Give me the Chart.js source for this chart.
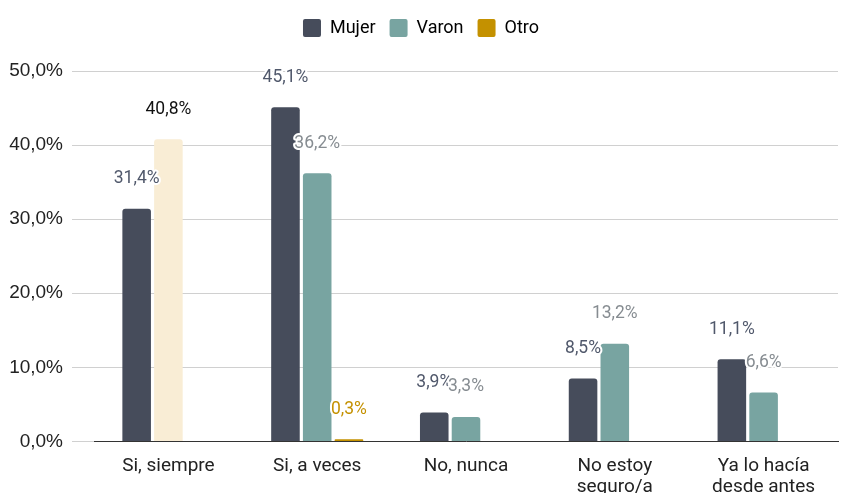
<!DOCTYPE html>
<html>
<head>
<meta charset="utf-8">
<script src="https://cdn.jsdelivr.net/npm/chart.js@4/dist/chart.umd.min.js"></script>
<style>
  html, body { margin: 0; padding: 0; background: #fff; overflow: hidden; }
  #wrap { width: 848px; height: 504px; position: relative; }
</style>
</head>
<body>
<div id="wrap"><canvas id="grafico"></canvas></div>
<script>
// datos
const categorias = ['Si, siempre', 'Si, a veces', 'No, nunca', ['No estoy', 'seguro/a'], ['Ya lo hacía', 'desde antes']];
const mujer = [31.4, 45.1, 3.9, 8.5, 11.1];
const varon = [40.8, 36.2, 3.3, 13.2, 6.6];
const otro = [null, 0.3, null, null, null];
const ticksY = [0, 10, 20, 30, 40, 50];

// barra resaltada (Varon en "Si, siempre")
const destacado = 0;

const colores = { mujer: '#464c5b', varon: '#78a4a1', otro: '#c49100', destacado: '#f9edd5' };
const coloresEtiqueta = { mujer: '#50586b', varon: '#868c91', otro: '#c49100' };

const fmt = v => v.toFixed(1).replace('.', ',') + '%';

// etiquetas de valor encima de las barras
const etiquetasPlugin = {
  id: 'etiquetas',
  afterDatasetsDraw(chart) {
    const ctx = chart.ctx;
    ctx.save();
    ctx.font = '17.5px Roboto';
    ctx.textAlign = 'center';
    ctx.textBaseline = 'middle';
    ctx.lineJoin = 'round';
    chart.data.datasets.forEach((ds, i) => {
      const meta = chart.getDatasetMeta(i);
      meta.data.forEach((bar, j) => {
        const v = ds.data[j];
        if (v == null) return;
        let color = ds.labelColor;
        if (i === 1 && j === destacado) color = '#111';
        const y = bar.y - 30;
        ctx.strokeStyle = '#fff';
        ctx.lineWidth = 4;
        ctx.strokeText(fmt(v), bar.x, y);
        ctx.fillStyle = color;
        ctx.fillText(fmt(v), bar.x, y);
      });
    });
    ctx.restore();
  }
};

// mas espacio bajo la leyenda
const espacioLeyenda = {
  id: 'espacioLeyenda',
  beforeInit(chart) {
    const fitOrig = chart.legend.fit;
    chart.legend.fit = function () {
      fitOrig.bind(chart.legend)();
      this.height += 24;
    };
  }
};

const ctx = document.getElementById('grafico').getContext('2d');
new Chart(ctx, {
  type: 'bar',
  data: {
    labels: categorias,
    datasets: [
      {
        label: 'Mujer',
        data: mujer,
        backgroundColor: colores.mujer,
        labelColor: coloresEtiqueta.mujer
      },
      {
        label: 'Varon',
        data: varon,
        backgroundColor: varon.map((v, j) => j === destacado ? colores.destacado : colores.varon),
        labelColor: coloresEtiqueta.varon
      },
      {
        label: 'Otro',
        data: otro,
        backgroundColor: colores.otro,
        labelColor: coloresEtiqueta.otro
      }
    ]
  },
  options: {
    responsive: true,
    maintainAspectRatio: false,
    animation: false,
    layout: { padding: { left: 4, right: 10, top: 5, bottom: 0 } },
    datasets: {
      bar: {
        categoryPercentage: 0.64,
        barPercentage: 0.9,
        borderRadius: { topLeft: 3, topRight: 3 },
        borderSkipped: 'bottom'
      }
    },
    plugins: {
      legend: {
        position: 'top',
        labels: {
          color: '#222',
          font: { family: 'Roboto', size: 18 },
          boxWidth: 18,
          boxHeight: 18,
          useBorderRadius: true,
          borderRadius: 2,
          padding: 14,
          generateLabels(chart) {
            return chart.data.datasets.map((ds, i) => ({
              text: ds.label,
              fillStyle: [colores.mujer, colores.varon, colores.otro][i],
              strokeStyle: 'transparent',
              lineWidth: 0,
              datasetIndex: i,
              borderRadius: 2
            }));
          }
        }
      },
      tooltip: { enabled: false }
    },
    scales: {
      x: {
        grid: { display: false },
        border: { color: '#333', width: 1 },
        ticks: {
          color: '#222',
          font: { family: 'Roboto', size: 19, lineHeight: 1.12 },
          padding: 6,
          maxRotation: 0
        }
      },
      y: {
        min: 0,
        max: 50,
        afterBuildTicks(scale) {
          scale.ticks = ticksY.map(v => ({ value: v }));
        },
        afterFit(scale) { scale.width = 90; },
        border: { display: false },
        grid: {
          color: '#d0d0d0',
          tickLength: 22,
          tickColor: '#d0d0d0'
        },
        ticks: {
          color: '#222',
          font: { family: 'Liberation Sans', size: 19 },
          padding: 9,
          callback: v => fmt(v)
        }
      }
    }
  },
  plugins: [etiquetasPlugin, espacioLeyenda]
});
</script>
</body>
</html>
